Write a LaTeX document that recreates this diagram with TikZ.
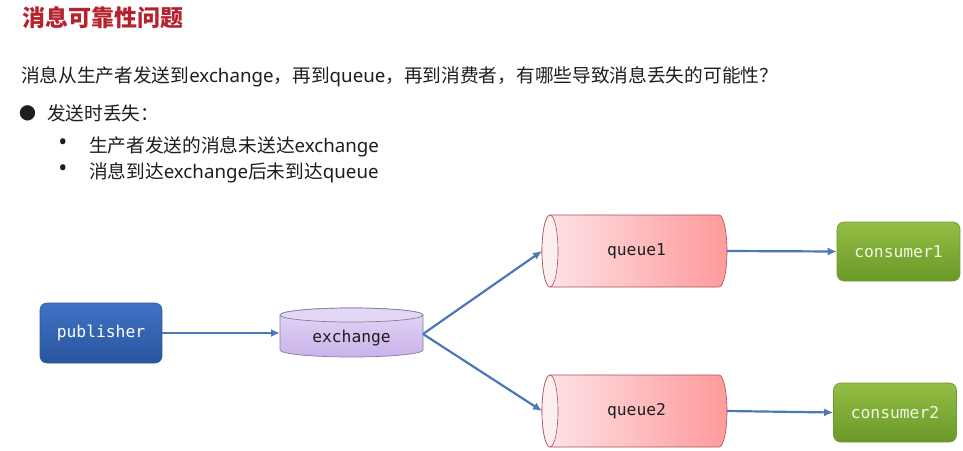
\documentclass[tikz,border=0pt]{standalone}
\usepackage{fontspec}
\setmainfont{Noto Sans}
\newfontfamily\cjk{Noto Sans CJK SC}
\newfontfamily\monof{DejaVu Sans Mono}
\newfontfamily\symf{DejaVu Sans}
\usetikzlibrary{arrows.meta,calc,backgrounds}

\definecolor{titlered}{HTML}{B5222E}
\definecolor{bodytext}{HTML}{1E1E1E}
\definecolor{arrowblue}{HTML}{4A78B8}
\definecolor{pubtop}{HTML}{3F73C4}
\definecolor{pubbot}{HTML}{2A559D}
\definecolor{pubborder}{HTML}{2D5796}
\definecolor{extop}{HTML}{E4D7F5}
\definecolor{exbot}{HTML}{C9B2EA}
\definecolor{exborder}{HTML}{8A7AA3}
\definecolor{qleft}{HTML}{FDE4E7}
\definecolor{qright}{HTML}{FF9A9C}
\definecolor{qend}{HTML}{FDEEF0}
\definecolor{qborder}{HTML}{A8505C}
\definecolor{contop}{HTML}{93BE44}
\definecolor{conbot}{HTML}{6A992A}
\definecolor{conborder}{HTML}{6F9A30}
\definecolor{context}{HTML}{F2F6E4}

\tikzset{
  txt/.style={inner sep=0pt, outer sep=0pt, anchor=base west, text=bodytext,
    font=\fontsize{18.7}{22}\selectfont},
  diagfont/.style={font=\monof\fontsize{16.3}{19}\selectfont},
  pubbox/.style={diagfont, rounded corners=7pt, minimum width=122pt, minimum height=60pt,
    top color=pubtop, bottom color=pubbot, draw=pubborder, line width=0.6pt, text=white,
    inner sep=0pt},
  conbox/.style={diagfont, rounded corners=7pt, minimum width=123pt, minimum height=59pt,
    top color=contop, bottom color=conbot, draw=conborder, line width=0.6pt, text=context,
    inner sep=0pt},
  exbox/.style={diagfont, minimum width=143pt, minimum height=42pt, inner sep=0pt,
    outer sep=0pt, text=bodytext},
  qbox/.style={diagfont, minimum width=185pt, minimum height=72pt, inner sep=0pt,
    outer sep=0pt, text=bodytext},
  exfill/.style={top color=extop, bottom color=exbot, draw=exborder, line width=0.7pt},
  qfill/.style={left color=qleft, right color=qright, draw=qborder, line width=0.6pt},
  conn/.style={draw=arrowblue, line width=2.2pt, -{Latex[length=9pt,width=8pt]}},
}

\begin{document}
\begin{tikzpicture}[x=1pt,y=1pt]
\useasboundingbox (0,0) rectangle (963,-450);

% ---- text ----
\node[txt, font=\cjk\bfseries\fontsize{23}{28}\selectfont, text=titlered] (title) at (22,-26) {消息可靠性问题};
\node[txt] (line1) at (21,-82) {{\cjk 消息从生产者发送到}exchange{\cjk ，再到}queue{\cjk ，再到消费者，有哪些导致消息丢失的可能性？}};
\node[inner sep=0pt, text=bodytext, font=\symf\fontsize{20}{24}\selectfont] (bul1) at (27.5,-113) {●};
\node[txt] (item1) at (47,-120) {{\cjk 发送时丢失：}};
\node[inner sep=0pt, text=bodytext, font=\fontsize{24}{28}\selectfont] (bul2) at (63,-145) {•};
\node[txt] (sub1) at (89,-152) {{\cjk 生产者发送的消息未送达}exchange};
\node[inner sep=0pt, text=bodytext, font=\fontsize{24}{28}\selectfont] (bul3) at (63,-171) {•};
\node[txt] (sub2) at (89,-178) {{\cjk 消息到达}exchange{\cjk 后未到达}queue};

% ---- diagram nodes ----
\node[pubbox] (pub) at (101,-333) {publisher};
\node[exbox] (ex) at (351.5,-336) {\raisebox{-2.5pt}[\height][\depth]{exchange}};
\node[qbox] (q1) at (634.5,-251) {\hspace{4pt}queue1};
\node[qbox] (q2) at (634.5,-411) {\hspace{4pt}queue2};
\node[conbox] (c1) at (898.5,-251.5) {consumer1};
\node[conbox] (c2) at (895,-412.5) {consumer2};

\begin{scope}[on background layer]
  \fill[white] (0,0) rectangle (963,-450);
  % exchange cylinder
  \path[exfill] (ex.north west) -- ($(ex.south west)+(0,7)$)
    arc[start angle=180, end angle=360, x radius=71.5pt, y radius=7pt]
    -- (ex.north east)
    arc[start angle=0, end angle=180, x radius=71.5pt, y radius=7pt] -- cycle;
  \draw[fill=extop, draw=exborder, line width=0.7pt] (ex.north) ellipse [x radius=71.5pt, y radius=7pt];
  % queue cylinders
  \foreach \q in {q1,q2}{
    \path[qfill] ($(\q.north west)+(8,0)$) -- ($(\q.north east)+(-8,0)$)
      arc[start angle=90, end angle=-90, x radius=8pt, y radius=36pt]
      -- ($(\q.south west)+(8,0)$)
      arc[start angle=270, end angle=90, x radius=8pt, y radius=36pt] -- cycle;
    \draw[fill=qend, draw=qborder, line width=0.6pt] ($(\q.west)+(8,0)$) ellipse [x radius=8pt, y radius=36pt];
  }
\end{scope}

% ---- connectors ----
\draw[conn] (pub.east) -- (pub.east -| ex.west);
\draw[conn] ([yshift=2pt]ex.east) -- (q1.west);
\draw[conn] ([yshift=2pt]ex.east) -- (q2.west);
\draw[conn] (q1.east) -- (c1.west);
\draw[conn] (q2.east) -- (c2.west);
\end{tikzpicture}
\end{document}
